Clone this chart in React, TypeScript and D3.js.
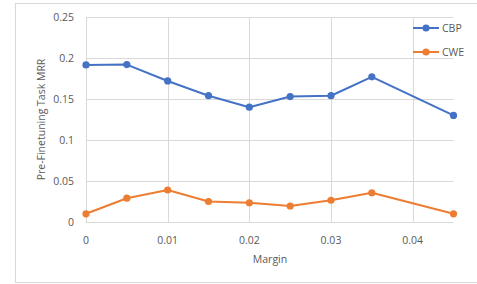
import React from 'react';
import * as d3 from 'd3';

const margins = [0, 0.005, 0.01, 0.015, 0.02, 0.025, 0.03, 0.035, 0.045];
const cbp = [0.1915, 0.192, 0.172, 0.154, 0.140, 0.153, 0.154, 0.177, 0.130];
const cwe = [0.010, 0.029, 0.039, 0.025, 0.0235, 0.0195, 0.0265, 0.0357, 0.010];
const xTicks = [0, 0.01, 0.02, 0.03, 0.04];
const yTicks = [0, 0.05, 0.1, 0.15, 0.2, 0.25];
const seriesNames = ['CBP', 'CWE'];
const colors = ['#4472C4', '#ED7D31'];

const FONT = '"Open Sans", "Noto Sans", sans-serif';
const TEXT = '#595959';

export default function App() {
  const left = 86, right = 453.5, top = 17, bottom = 222;
  const x = d3.scaleLinear().domain([0, 0.045]).range([left, right]);
  const y = d3.scaleLinear().domain([0, 0.25]).range([bottom, top]);
  const line = d3.line<number>()
    .x((_, i) => x(margins[i]))
    .y(d => y(d));
  const series = [cbp, cwe];

  return (
    <svg width={477} height={284} style={{ position: 'absolute', left: 0, top: 0 }}>
      <rect x={0} y={0} width={477} height={284} fill="#fff" />
      <rect x={15.5} y={3.5} width={470} height={279} fill="none" stroke="#d9d9d9" />
      {yTicks.map(t => (
        <g key={'y' + t}>
          <line x1={left} x2={right} y1={Math.round(y(t)) + 0.5} y2={Math.round(y(t)) + 0.5}
            stroke="#d9d9d9" strokeWidth={1} />
          <text x={74} y={y(t)} dy="0.35em" textAnchor="end" fontSize={10.5}
            fontFamily={FONT} fill={TEXT}>{t}</text>
        </g>
      ))}
      {xTicks.map(t => (
        <g key={'x' + t}>
          <line x1={Math.round(x(t)) + 0.5} x2={Math.round(x(t)) + 0.5} y1={top} y2={bottom}
            stroke="#d9d9d9" strokeWidth={1} />
          <text x={x(t)} y={240} dy="0.35em" textAnchor="middle" fontSize={10.5}
            fontFamily={FONT} fill={TEXT}>{t}</text>
        </g>
      ))}
      <text x={270} y={259} dy="0.35em" textAnchor="middle" fontSize={10.5}
        fontFamily={FONT} fill={TEXT}>Margin</text>
      <text transform={`translate(41,${(top + bottom) / 2}) rotate(-90)`} dy="0.35em"
        textAnchor="middle" fontSize={10.5} fontFamily={FONT} fill={TEXT}>
        Pre-Finetuning Task MRR
      </text>
      {series.map((s, k) => (
        <g key={seriesNames[k]}>
          <path d={line(s) || ''} fill="none" stroke={colors[k]} strokeWidth={2}
            strokeLinejoin="round" />
          {s.map((v, i) => (
            <circle key={i} cx={x(margins[i])} cy={y(v)} r={3.6} fill={colors[k]} />
          ))}
        </g>
      ))}
      {seriesNames.map((n, k) => (
        <g key={'lg' + n} transform={`translate(413,${28 + k * 24})`}>
          <line x1={0} x2={26} y1={0} y2={0} stroke={colors[k]} strokeWidth={2} />
          <circle cx={13} cy={0} r={3.6} fill={colors[k]} />
          <text x={29} y={0} dy="0.35em" fontSize={10.5} fontFamily={FONT} fill={TEXT}>{n}</text>
        </g>
      ))}
    </svg>
  );
}
